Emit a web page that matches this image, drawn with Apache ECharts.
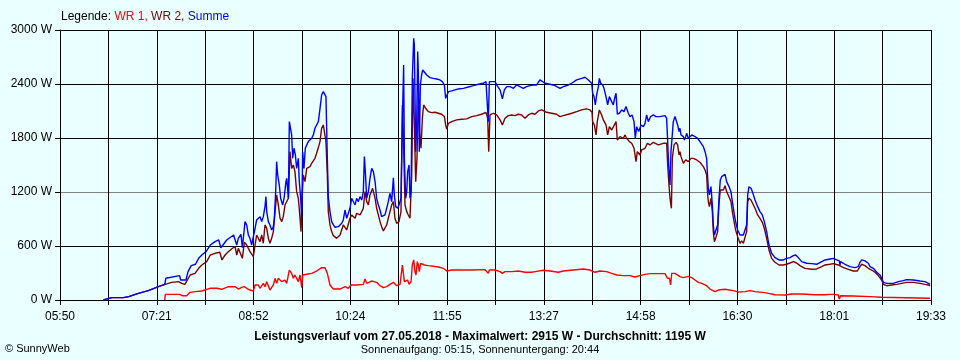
<!DOCTYPE html>
<html>
<head>
<meta charset="utf-8">
<script src="https://cdn.jsdelivr.net/npm/echarts@6/dist/echarts.min.js"></script>
<style>
html,body{margin:0;padding:0;background:#EAFFFF;}
#chart{width:960px;height:360px;}
</style>
</head>
<body>
<div id="chart"></div>
<script>
// ---- Data (time in minutes after midnight, value in W) ----
const xTickLabels = ['05:50','07:21','08:52','10:24','11:55','13:27','14:58','16:30','18:01','19:33'];
const yTickValues = [0, 600, 1200, 1800, 2400, 3000];

const wr1 = [
[449,0],[449.5,63],[463,63],[465.6,48],[469.7,48],[472.8,85],[477.6,93],[483.9,100],[491.7,130],[498,130],[502.8,119],[509,148],[515.4,148],[518.5,122],[521.7,141],[524.2,148],
[526.4,130],[529.5,111],[532.7,100],[534.3,167],[537.4,167],[539,130],[542.1,185],[543.7,148],[545.3,204],[548.4,111],
[551.6,167],[553.2,241],[554.7,185],[556.3,241],[559.5,204],[562.6,222],[564.2,185],[566.7,333],[568.9,296],[570.5,241],
[572,278],[573.6,241],[575.2,204],[576.8,278],[578.4,137],[579.3,278],[583.1,286],[587.8,296],[592.5,322],[597.2,359],
[600.4,359],[602.6,296],[605.1,167],[608.3,122],[614.6,122],[619.3,148],[622.5,130],[625,167],[630.3,167],[636.6,174],
[638.2,233],[639.8,185],[644.5,211],[649.2,196],[652.4,159],[655.5,137],[658.7,148],[661.8,174],
[663.4,174],[665,196],[668.1,159],[671.3,174],[672.2,174],[673.5,389],[674.4,408],[675.4,204],[676.6,185],[678.5,222],
[679.8,174],[681.7,204],[682.9,389],[684.2,445],[685.4,315],[686.4,278],[687.6,426],[688.6,389],[689.5,315],[690.8,408],
[692.4,389],[694.3,389],[698,382],[702.8,375],[707.5,367],[712.2,352],[715.4,322],[720.1,333],[729.5,333],[739,333],
[751.6,337],[754.7,296],[755.7,333],[761,333],[765.8,315],[768,296],[770.5,315],[776.8,315],[783.1,322],[789.4,308],
[795.7,308],[798.8,315],
[800.4,311],[806.7,330],[813,322],[820.9,308],[825.6,322],[835,333],[844.5,344],[850.8,333],[855.5,308],[860.2,322],
[866.5,315],[871.3,296],[876,278],[882.3,271],[888.6,271],[893.3,256],[898,271],[902.8,285],[907.5,293],[913.8,293],
[921.7,293],[923.9,241],[925.8,241],[927,167],[928,296],[931.1,296],[935.8,259],
[936.8,259],[939,248],[943.7,263],[946.9,248],[950,222],[953.2,196],[956.3,185],[961,159],[964.2,122],[968.9,93],
[972.1,111],[978.4,119],[986.2,104],[990.9,89],[997.3,93],[1002,104],[1006.7,93],[1016.1,82],[1025.6,59],[1035.1,56],
[1041.3,67],[1050.8,67],[1063.4,59],[1072.9,59],
[1077.6,63],[1080.7,63],[1085.4,56],[1086.4,11],[1087,11],[1087.6,48],[1099.6,44],[1115.4,37],[1126.4,30],[1128,19],[1172.1,19]
];

const wr2 = [
[391,0],[392,11],[399,26],[410,26],[411,11],[415,37],[424,74],[433.5,104],[443,148],[449.5,174],[455.5,196],[462,204],
[465,185],[468,174],[473,278],[477.6,296],[481,352],[484,389],[488.6,426],[492,500],[496.5,519],[501,530],[503,445],
[506,500],[509,537],[512,567],[515.4,593],[517,500],[518.5,574],[520,593],[522.3,463],[524.2,641],
[524.8,648],[526.4,611],[529.5,537],[531.1,519],[532.7,482],[534.3,611],[535.8,722],[537.4,741],[539,648],[540.6,722],
[542.1,630],[543.7,834],[545.3,797],[546.9,685],[548.4,630],[550,685],[551.6,760],[553.2,982],[554.7,1167],[556.3,1056],
[557.9,908],[559.5,871],[561,926],[562.6,1056],[564.2,1056],[565.8,1130],[567.3,1648],[568.9,1463],[570.5,1500],[572,1426],
[573.6,1204],[575.2,1130],[576.8,908],[577.7,760],[578.7,1130],[579.9,1389],[581.5,1315],[583.1,1463],[586.2,1482],[587.8,1519],
[589.4,1500],[590.9,1574],[592.5,1630],[595.7,1760],[597.2,1908],[598.8,1945],[600.4,1952],[601.3,1760],[602.6,1389],[603.5,982],
[605.1,834],[606.7,760],[608.3,715],[611.4,685],[614.6,722],[617.7,834],[619.3,852],[620.9,778],[622.5,760],[624,908],
[625.6,945],[627.2,926],[628.8,908],[630.3,963],[633.5,945],[635.1,982],[636.6,1019],[638.2,1204],[639.8,1093],[641.4,1056],
[642.9,1167],[645.4,1241],[647.7,1130],[649.2,1019],[650.8,945],[652.4,871],[653.9,815],[655.5,767],[657.1,778],[658.7,834],
[660.2,908],[661.8,982],
[663.4,1056],[665,1093],[666.5,908],[668.1,852],[670.3,871],[672.2,982],[673.5,2167],[674.4,1871],[676,1056],[677.6,982],
[679.1,945],[680.7,908],[682.3,1389],[683.6,2463],[684.8,1945],[686.1,1315],[687.3,1574],[688.6,2278],[689.8,1871],[691.1,1686],
[692.4,2019],[693.6,2167],[695.5,2130],[698,2093],[701.2,2082],[704.3,2086],[707.5,2075],[710.6,2064],[713.2,2038],[714.4,1945],
[715.4,1900],[717,1963],[720.1,1982],[724.8,2001],[729.5,2008],[734.3,2012],[739,2038],[743.7,2049],[748.4,2064],[752.5,2085],
[754.1,2019],[755.1,1648],[756.3,2056],[759.5,2075],[762.6,2056],[765.8,2001],[768,1945],[770.5,2019],[773.6,2049],[776.8,2056],
[779.9,2049],[783.1,2064],[786.2,2056],[789.4,2019],[792.5,2056],[795.7,2075],[798.8,2064],
[800.4,2049],[802,2101],[805.1,2112],[809.8,2086],[814.6,2075],[819.3,2064],[822.4,2038],[825.6,2049],[830.3,2064],[833.5,2075],
[838.2,2093],[842.9,2112],[847.6,2123],[850.8,2112],[852.7,2086],[853.3,1982],[854.9,1945],[856.5,1834],[857.7,1982],[859.6,2112],
[861.8,2056],[863.4,2001],[865.9,1945],[867.5,1834],[869.1,1926],[871.3,1889],[872.8,1871],[875.4,1982],[876.6,1778],[879.1,1815],
[882.3,1797],[883.9,1834],[885.4,1797],[888,1760],[890.2,1741],[892.4,1686],[894.3,1537],[895.5,1648],[898,1611],[899.6,1667],
[902.8,1686],[905,1741],[907.5,1723],[910.6,1752],[915.4,1723],[920.1,1741],[923.2,1741],[924.2,1500],[925.4,1278],[926.4,1130],
[927.7,1019],[928.6,1574],[930.2,1723],[932.1,1752],[933.6,1723],[934.9,1611],[935.8,1648],
[936.8,1593],[939,1519],[941.2,1556],[943.7,1537],[946.2,1574],[948.4,1574],[951.6,1556],[954.7,1530],[957.9,1482],[959.5,1445],
[961,1389],[962,1167],[962.6,1093],[963.6,1037],[965.1,1130],[966.4,982],[967.3,760],[968.3,648],[969.5,685],[971.4,760],
[972.7,1074],[973.9,1223],[975.2,1241],[976.8,1223],[978.4,1270],[979.9,1204],[982.1,1148],[984,1093],[985.3,982],[987.2,852],
[988.4,778],[990.3,704],[992.5,630],[994.1,656],[995.7,630],[997.3,648],[998.8,760],[999.8,1093],[1001,1130],[1002.9,1111],
[1004.2,1093],[1006.7,1019],[1009.2,945],[1011.4,908],[1013.6,863],[1015.5,797],[1017.7,685],[1019.9,556],[1022.4,463],[1025.6,419],
[1029.4,389],[1033.5,389],[1036.6,397],[1039.8,411],[1042.9,426],[1046.1,411],[1049.2,382],[1053.9,352],[1060.2,341],[1065,345],
[1069.7,371],[1072.9,389],
[1077.6,397],[1080.7,404],[1085.4,389],[1090.2,360],[1094.9,341],[1099.6,322],[1103.4,322],[1105.3,360],[1107.5,397],[1110.6,382],
[1113.8,352],[1116.9,333],[1120.1,308],[1123.2,271],[1126.4,222],[1128,174],[1131.1,159],[1135.8,167],[1140.6,174],[1145.3,185],
[1150,196],[1156.3,196],[1162.6,185],[1167.3,174],[1170.5,167],[1172.1,156]
];

const summe = [
[391,0],[392,11],[399,26],[410,26],[411,11],[415,37],[424,74],[433.5,104],[443,148],[449,174],[450,241],[463,271],
[464,222],[469,222],[471,315],[474,382],[478,397],[481,463],[484,500],[488,537],[492,611],[496.5,648],[500,667],[502,581],
[504,611],[507.5,667],[509,685],[514,722],[515.4,730],[517,611],[518.5,685],[521,730],[522.3,581],[524.2,797],
[524.8,871],[526.4,834],[528,722],[529.5,685],[531.1,611],[532.7,593],[534.3,797],[535.8,889],[537.4,908],[539,926],
[540.6,871],[542.1,926],[543.7,1037],[544.6,1148],[545.3,982],[546.9,871],[548.4,834],[550,778],[551.6,815],[552.5,908],
[553.8,1204],[554.7,1537],[555.7,1389],[557.2,1278],[558.5,1130],[560.4,1056],[561.7,1130],[563.5,1315],[564.2,1352],[565.8,1130],
[566.7,1982],[568,1963],[568.9,1834],[569.8,1574],[571.1,1686],[572.4,1611],[573.6,1463],[575.2,1574],[576.1,1315],[577.4,1130],
[578.4,908],[579.3,1648],[580.5,1463],[581.8,1686],[583.1,1723],[584.6,1760],[586.2,1778],[587.8,1797],[589.4,1834],[590.9,1908],
[592.5,1945],[594.1,1982],[595.7,2130],[597.2,2278],[598.8,2315],[600.4,2334],[601.3,2260],[602.6,1574],[603.5,1148],[605.1,982],
[606.7,871],[608.3,834],[609.9,808],[613,815],[616.2,852],[617.7,889],[619.3,1000],[620.9,908],[622.5,889],[624,1019],
[625.6,1130],[627.2,1111],[628.8,1056],[630.3,1130],[631.9,1093],[633.5,1148],[635.1,1111],[636.6,1204],[637.6,1593],[638.5,1426],
[639.8,1130],[641.4,1204],[642.9,1352],[644.5,1463],[646.1,1426],[647.7,1315],[649.2,1130],[650.8,1056],[652.4,1000],[653.9,926],
[655.5,908],[657.1,945],[658.7,1019],[660.2,1093],[661.8,1185],
[663.4,1093],[665,1359],[665.9,1167],[667.2,1037],[669.1,1019],[670.3,1056],[672.2,1130],[673.5,1982],[674.7,2611],[675.4,1574],
[676.6,1130],[677.6,1204],[678.5,1426],[679.8,1500],[680.7,1130],[681.7,1204],[682.9,2463],[684.2,2908],[684.8,2834],[686.1,1648],
[687,1945],[688,2760],[688.6,2537],[689.5,1648],[690.5,2389],[691.7,2500],[692.7,2556],[694.3,2537],[696.5,2500],[699.6,2471],
[702.8,2463],[705.9,2456],[709,2445],[711.3,2426],[713.2,2389],[714.4,2241],[715.7,2278],[717,2315],[720.1,2323],[723.2,2334],
[726.4,2345],[731.1,2352],[735.8,2367],[740.6,2382],[745.3,2397],[750,2408],[752.5,2426],[754.1,2408],[754.7,1982],[755.7,2426],
[757.3,2434],[761,2426],[763.6,2371],[765.8,2334],[768,2234],[769.9,2334],[772.1,2371],[775.2,2371],[778.4,2352],[781.5,2389],
[784.6,2371],[787.8,2352],[789.4,2334],[790.9,2371],[794.1,2382],[797.2,2389],[798.8,2371],
[800.4,2389],[802,2397],[803.5,2445],[808.3,2408],[813,2397],[817.7,2382],[822.4,2352],[825.6,2371],[830.3,2389],[833.5,2408],
[838.2,2445],[842.9,2463],[846.1,2475],[847.6,2493],[849.2,2445],[850.8,2463],[852.4,2408],[853.3,2297],[854.6,2260],[855.8,2167],
[857.1,2278],[858.7,2371],[859.6,2463],[860.9,2408],[862.8,2389],[864,2352],[865.9,2260],[867.5,2167],[869.1,2260],[871.3,2204],
[872.8,2167],[874.4,2260],[875.4,2297],[876.6,2064],[878.5,2075],[880.7,2112],[882.9,2093],[884.8,2149],[887,2075],[888.6,2038],
[890.5,2056],[892.4,1982],[893.6,1797],[894.9,1926],[896.8,1871],[899,1945],[901.2,1926],[902.8,1963],[904.3,2056],[905.9,1982],
[908.1,2038],[910.6,2056],[913.2,2038],[916.9,2038],[921.7,2049],[923.2,2019],[924.2,1760],[925.1,1500],[926.4,1278],[927.3,1648],
[928.3,1797],[929.5,1982],[931.1,2038],[932.7,2056],[933.6,1945],[934.9,1871],[935.8,1908],
[936.8,1834],[939,1815],[939.9,1778],[941.2,1815],[942.1,1852],[943.7,1797],[946.9,1834],[950,1815],[952.5,1797],[954.7,1760],
[957.9,1704],[959.5,1648],[961,1574],[962,1352],[962.6,1241],[963.6,1167],[965.1,1260],[966.4,1056],[967.3,834],[968.3,722],
[969.5,741],[971.4,834],[972.7,1130],[973.9,1334],[975.2,1370],[976.8,1352],[978.4,1396],[979.9,1315],[982.1,1260],[984,1204],
[985.3,1093],[987.2,945],[988.4,871],[990.3,778],[992.5,722],[994.1,741],[995.7,722],[997.3,730],[998.8,834],[999.8,1167],
[1001,1259],[1002.9,1241],[1004.2,1204],[1006.7,1111],[1009.2,1037],[1011.4,982],[1013.6,945],[1015.5,871],[1017.7,760],[1019.9,611],
[1022.4,519],[1025.6,471],[1029.4,445],[1033.5,445],[1036.6,463],[1039.8,471],[1042.9,493],[1045.1,500],[1047.6,471],[1050.8,426],
[1055.5,408],[1060.2,404],[1065,397],[1069.7,426],[1072.9,445],
[1077.6,456],[1080.7,463],[1083.9,445],[1086.4,434],[1087,389],[1087.6,426],[1091.7,397],[1096.5,371],[1101.2,360],[1104.3,371],
[1105.9,419],[1107.5,445],[1110.6,434],[1113.8,408],[1115.4,371],[1118.5,352],[1121.7,308],[1124.8,278],[1126.4,241],[1128,196],
[1131.1,185],[1137.4,185],[1142.1,204],[1146.9,215],[1150,226],[1156.3,222],[1162.6,211],[1167.3,204],[1170.5,185],[1172.1,174]
];

const axisStartMin = 350;   // 05:50
const axisEndMin = 1173;    // 19:33
const gridSteps = 18;

// ---- Build ----
const stepMin = (axisEndMin - axisStartMin) / gridSteps;
const toAxis = pts => pts.map(p => [(p[0] - axisStartMin) / stepMin, p[1]]);
const FONT = '"Liberation Sans", Arial, sans-serif';

const chart = echarts.init(document.getElementById('chart'), null, {renderer: 'canvas'});
chart.setOption({
  animation: false,
  backgroundColor: '#EAFFFF',
  grid: {left: 60, right: 29, top: 30, bottom: 60, containLabel: false},
  xAxis: {
    type: 'value', min: 0, max: gridSteps, interval: 1,
    axisLine: {show: true, lineStyle: {color: '#000', width: 1}},
    axisTick: {show: true, length: 5, lineStyle: {color: '#000'}},
    axisLabel: {
      color: '#000', fontSize: 12, fontFamily: FONT, margin: 11,
      showMinLabel: true, showMaxLabel: true,
      formatter: v => { const i = Math.round(v); return i % 2 === 0 ? xTickLabels[i / 2] : ''; }
    },
    splitLine: {show: true, lineStyle: {color: '#000', width: 1}}
  },
  yAxis: {
    type: 'value', min: yTickValues[0], max: yTickValues[yTickValues.length - 1], interval: 600,
    axisLine: {show: true, lineStyle: {color: '#000', width: 1}},
    axisTick: {show: true, length: 5, lineStyle: {color: '#000'}},
    axisLabel: {color: '#000', fontSize: 12, fontFamily: FONT, margin: 8, formatter: v => v + ' W'},
    splitLine: {show: true, lineStyle: {color: ['#000', '#000', '#808080', '#000', '#000', '#000'], width: 1}}
  },
  series: [
    {name: 'WR 1', type: 'line', data: toAxis(wr1), showSymbol: false, lineStyle: {color: '#FF0000', width: 1.4}, itemStyle: {color: '#FF0000'}, z: 3},
    {name: 'WR 2', type: 'line', data: toAxis(wr2), showSymbol: false, lineStyle: {color: '#800000', width: 1.4}, itemStyle: {color: '#800000'}, z: 4},
    {name: 'Summe', type: 'line', data: toAxis(summe), showSymbol: false, lineStyle: {color: '#0000FF', width: 1.4}, itemStyle: {color: '#0000FF'}, z: 5}
  ],
  graphic: [
    {type: 'text', left: 61, top: 11, style: {
      text: '{k|Legende: }{r|WR 1, }{d|WR 2, }{b|Summe}',
      rich: {
        k: {fill: '#000', fontSize: 12, fontFamily: FONT},
        r: {fill: '#FF0000', fontSize: 12, fontFamily: FONT},
        d: {fill: '#800000', fontSize: 12, fontFamily: FONT},
        b: {fill: '#0000FF', fontSize: 12, fontFamily: FONT}
      }}},
    {type: 'text', style: {x: 480, y: 337, text: 'Leistungsverlauf vom 27.05.2018 - Maximalwert: 2915 W - Durchschnitt: 1195 W',
      fill: '#000', fontSize: 12, fontWeight: 'bold', fontFamily: FONT, align: 'center', verticalAlign: 'middle'}},
    {type: 'text', style: {x: 480, y: 350, text: 'Sonnenaufgang: 05:15, Sonnenuntergang: 20:44',
      fill: '#000', fontSize: 11, fontFamily: FONT, align: 'center', verticalAlign: 'middle'}},
    {type: 'text', style: {x: 5, y: 349, text: '© SunnyWeb',
      fill: '#000', fontSize: 11, fontFamily: FONT, align: 'left', verticalAlign: 'middle'}}
  ]
});
</script>
</body>
</html>
